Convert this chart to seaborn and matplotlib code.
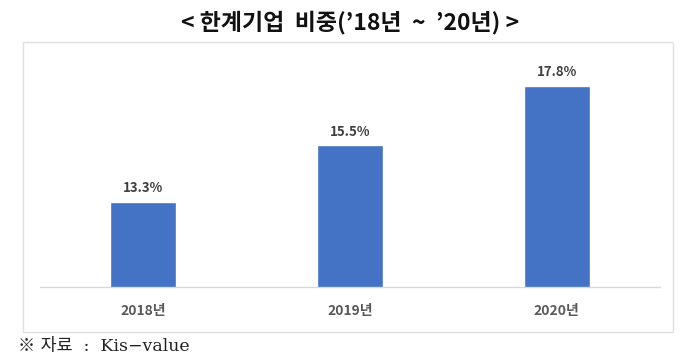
import matplotlib
matplotlib.use("Agg")
import matplotlib.pyplot as plt
import seaborn as sns
import pandas as pd
from matplotlib.patches import Rectangle

years = ["2018년", "2019년", "2020년"]
values = [13.3, 15.5, 17.8]
value_labels = ["13.3%", "15.5%", "17.8%"]
title = "< 한계기업  비중(’18년  ~  ’20년) >"
source = "※ 자료  :  Kis−value"

sns.set_theme(style="white")
plt.rcParams['font.family'] = ['Noto Sans CJK KR', 'DejaVu Sans']

df = pd.DataFrame({"year": years, "value": values})

fig = plt.figure(figsize=(7, 3.63), dpi=100)
ax = fig.add_axes([40/700, 76/363, 620/700, 232/363])
sns.barplot(data=df, x="year", y="value", color="#4472C4", width=0.32,
            saturation=1, ax=ax)
ax.set_ylim(10, 19)
ax.set_xlim(-0.5, 2.5)
for i, (v, lab) in enumerate(zip(values, value_labels)):
    ax.text(i, v + 0.25, lab, ha="center", va="bottom", fontsize=9.5,
            fontweight="bold", color="#404040")
ax.set_yticks([])
ax.set_xlabel("")
ax.set_ylabel("")
for s in ["top", "left", "right"]:
    ax.spines[s].set_visible(False)
ax.spines["bottom"].set_color("#D9D9D9")
ax.spines["bottom"].set_linewidth(1)
ax.tick_params(axis="x", length=0, pad=12, labelsize=10, labelcolor="#595959")
for t in ax.get_xticklabels():
    t.set_fontweight("bold")

fig.patches.append(Rectangle((23/700, 31/363), 650/700, 290/363,
                             transform=fig.transFigure, fill=False,
                             edgecolor="#E0E0E0", linewidth=1))
fig.text(0.5, 1 - 22/363, title, ha="center", va="center", fontsize=16.5,
         fontweight="bold", color="#111111")
fig.text(18/700, 1 - 347/363, source, ha="left", va="center", fontsize=12.5,
         color="#222222", family=['DejaVu Serif', 'Noto Sans CJK KR'])

fig.savefig("out.png", dpi=100)
